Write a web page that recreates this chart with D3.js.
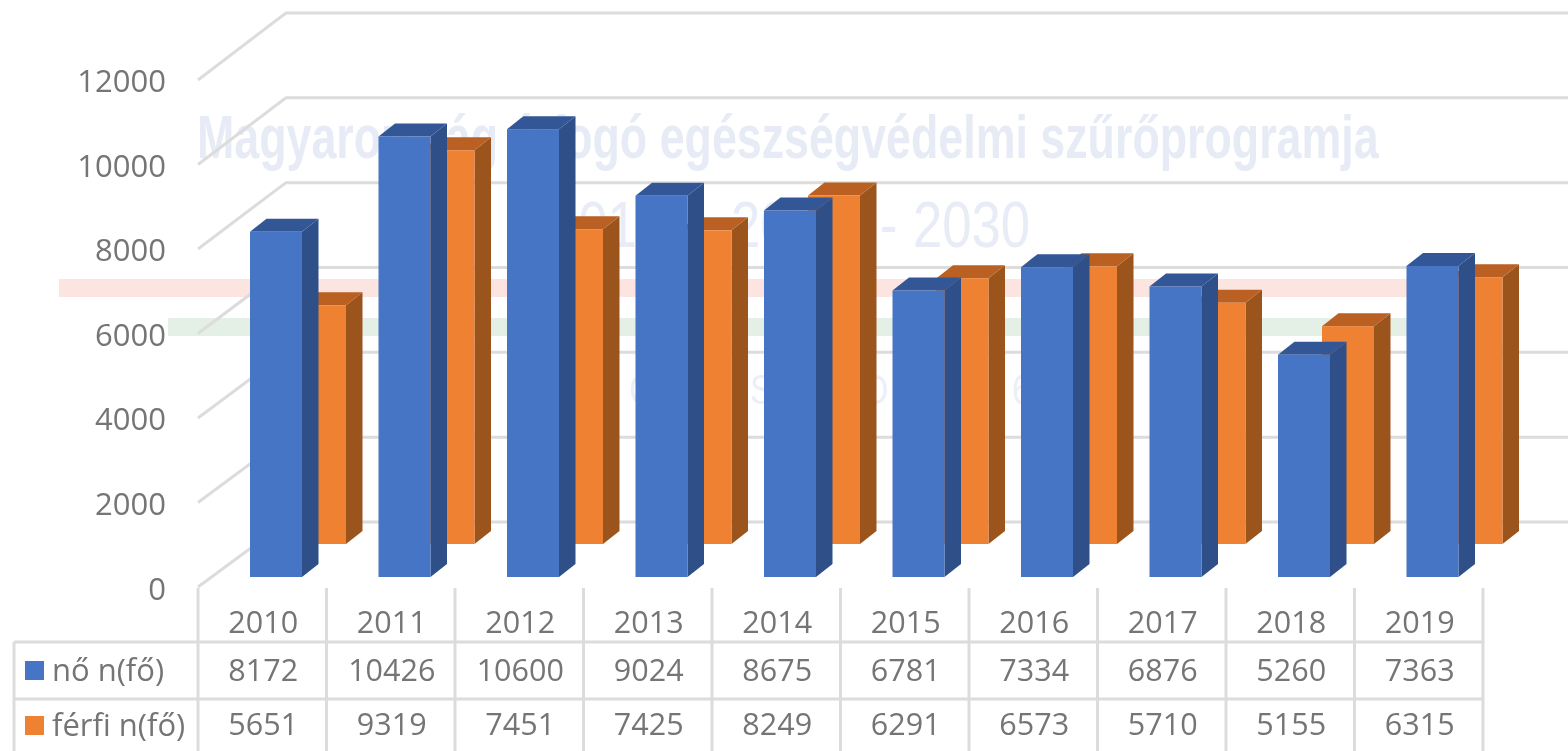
<!DOCTYPE html>
<html>
<head>
<meta charset="utf-8">
<script src="https://cdn.jsdelivr.net/npm/d3@7"></script>
<style>
html, body { margin: 0; padding: 0; background: #fff; overflow: hidden; }
svg { display: block; }
</style>
</head>
<body>
<svg id="chart"></svg>
<script>
// Chart data
const years = ["2010", "2011", "2012", "2013", "2014", "2015", "2016", "2017", "2018", "2019"];
const noValues = [8172, 10426, 10600, 9024, 8675, 6781, 7334, 6876, 5260, 7363];
const ferfiValues = [5651, 9319, 7451, 7425, 8249, 6291, 6573, 5710, 5155, 6315];
const seriesNames = ["nő n(fő)", "férfi n(fő)"];
const yTicks = [0, 2000, 4000, 6000, 8000, 10000, 12000];
const watermarkTitle = "Magyarország átfogó egészségvédelmi szűrőprogramja";
const watermarkYears = ["2013", "-", "2020", "-", "2030"];
const watermarkFragments = ["C", "S", "O", "6"]; // only these bits of the third line show between the bars

const width = 1568, height = 751;
const font = "'Open Sans', sans-serif";
const wmFont = "'Liberation Sans', sans-serif";
const textColor = "#757575";
const gridColor = "#dcdcdc";

// Colours per series: front, top, side
const colors = [
    { front: "#4775c6", top: "#325796", side: "#2d4f87" },
    { front: "#ee8133", top: "#b96020", side: "#9b551f" }
];

const svg = d3.select("#chart").attr("width", width).attr("height", height)
    .attr("font-family", font);

// Soften everything a little, the reference is an enlarged screenshot
svg.append("defs").append("filter").attr("id", "soft")
    .append("feGaussianBlur").attr("stdDeviation", 0.7);
const root = svg.append("g").attr("filter", "url(#soft)");

// Scales
const tableLeft = 198, tableRight = 1483;
const x = d3.scaleBand().domain(years).range([tableLeft, tableRight]);
const y = d3.scaleLinear().domain([0, 12000]).range([0, 507]); // bar height in px

// Depth of the 3D box, and how far each series sits back
const barWidth = 52, barInset = 52;
const depthX = 16.5, depthY = 13;
const floorY = 577;
const stepX = 44, stepY = 33;

// Side wall starts on the left axis, back wall is slightly taller
const wallX = 88;
const leftAxisY = d3.scaleLinear().domain([0, 12000]).range([587, 80]);
const backWallY = d3.scaleLinear().domain([0, 12000]).range([522, 13]);
const labelY = d3.scaleLinear().domain([0, 12000]).range([588.5, 81]);

// Flag bands behind the chart
root.append("rect").attr("x", 59).attr("y", 279).attr("width", 1370).attr("height", 18).attr("fill", "#fce4e1");
root.append("rect").attr("x", 168).attr("y", 318).attr("width", 1260).attr("height", 18).attr("fill", "#e4efe6");

// Faded background text, no narrow font is installed so it gets squeezed
const title = root.append("text")
    .attr("font-family", wmFont)
    .attr("font-weight", "bold")
    .attr("font-size", 62)
    .attr("fill", "#e6ebf5")
    .text(watermarkTitle);
const titleScale = 1182 / title.node().getComputedTextLength();
title.attr("transform", `translate(197,158) scale(${titleScale},1)`);

const yearX = [549, 670, 731, 880, 913];
root.append("g").selectAll("text").data(watermarkYears).join("text")
    .attr("transform", (d, i) => `translate(${yearX[i]},247) scale(0.81,1)`)
    .attr("font-family", wmFont)
    .attr("font-size", 65)
    .attr("fill", "#e8ecf6")
    .text(d => d);

const fragmentX = [629, 750, 862, 1012];
root.append("g").selectAll("text").data(watermarkFragments).join("text")
    .attr("transform", (d, i) => `translate(${fragmentX[i]},404) scale(0.81,1)`)
    .attr("font-family", wmFont)
    .attr("font-size", 42)
    .attr("fill", "#eceef8")
    .text(d => d);

// Grid lines
yTicks.forEach(t => {
    root.append("path")
        .attr("d", d3.line()([[tableLeft, leftAxisY(t)], [tableLeft + wallX, backWallY(t)], [width, backWallY(t)]]))
        .attr("fill", "none")
        .attr("stroke", gridColor)
        .attr("stroke-width", 3);
});

// One 3D bar: back series first so the front series overlaps it
function drawBars(values, s) {
    const c = colors[s];
    const g = root.append("g").attr("class", "series-" + s);
    const dx = s * stepX, dy = s * stepY;
    const boxes = g.selectAll("g").data(values).join("g");
    boxes.each(function (v, i) {
        const left = x(years[i]) + barInset + dx;
        const right = left + barWidth;
        const bottom = floorY - dy;
        const top = bottom - y(v);
        const box = d3.select(this);
        box.append("path")
            .attr("d", d3.line()([[right, top], [right + depthX, top - depthY], [right + depthX, bottom - depthY], [right, bottom]]) + "Z")
            .attr("fill", c.side);
        box.append("path")
            .attr("d", d3.line()([[left, top], [left + depthX, top - depthY], [right + depthX, top - depthY], [right, top]]) + "Z")
            .attr("fill", c.top);
        box.append("rect")
            .attr("x", left).attr("y", top)
            .attr("width", barWidth).attr("height", bottom - top)
            .attr("fill", c.front);
    });
}
drawBars(ferfiValues, 1);
drawBars(noValues, 0);

// Y axis labels
root.selectAll(".ylab").data(yTicks).join("text")
    .attr("class", "ylab")
    .attr("x", 166)
    .attr("y", d => labelY(d))
    .attr("dy", "0.36em")
    .attr("text-anchor", "end")
    .attr("font-size", 31)
    .attr("fill", textColor)
    .text(d => d);

// Data table
const tableTop = 588, row1 = 642, row2 = 699, tableLeftCol = 14;
const tableLines = root.append("g").attr("stroke", gridColor).attr("stroke-width", 3);
[row1, row2].forEach(ry => {
    tableLines.append("line").attr("x1", tableLeftCol).attr("x2", tableRight).attr("y1", ry).attr("y2", ry);
});
tableLines.append("line").attr("x1", tableLeftCol).attr("x2", tableLeftCol).attr("y1", row1).attr("y2", height);
years.concat("end").forEach((yr, i) => {
    const lx = i < years.length ? x(yr) : tableRight;
    tableLines.append("line").attr("x1", lx).attr("x2", lx).attr("y1", tableTop).attr("y2", height);
});

const cellText = (values, cy) => root.append("g").selectAll("text").data(values).join("text")
    .attr("x", (d, i) => x(years[i]) + x.bandwidth() / 2 + 1)
    .attr("y", cy)
    .attr("dy", "0.36em")
    .attr("text-anchor", "middle")
    .attr("font-size", 30.5)
    .attr("fill", textColor)
    .text(d => d);

cellText(years, 622);
cellText(noValues, 670);
cellText(ferfiValues, 724);

// Legend keys in the table
[670, 725].forEach((cy, s) => {
    root.append("rect").attr("x", 25).attr("y", cy - 9).attr("width", 19).attr("height", 19).attr("fill", colors[s].front);
    root.append("text")
        .attr("x", 52).attr("y", cy)
        .attr("dy", "0.34em")
        .attr("font-size", 31)
        .attr("fill", textColor)
        .text(seriesNames[s]);
});
</script>
</body>
</html>
